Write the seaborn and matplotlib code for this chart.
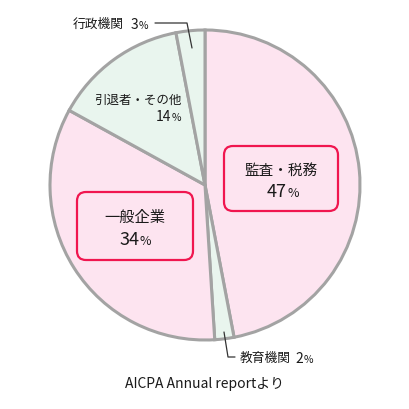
import seaborn as sns
import matplotlib.pyplot as plt
from matplotlib.patches import FancyBboxPatch

# Data (clockwise from top)
categories = ['監査・税務', '教育機関', '一般企業', '引退者・その他', '行政機関']
shares = [47, 2, 34, 14, 3]
fill_colors = ['#fde4f0', '#e9f5ee', '#fde4f0', '#e9f5ee', '#e9f5ee']

sns.set_theme(style='white')
plt.rcParams['font.family'] = ['Noto Sans CJK JP', 'DejaVu Sans']

R = 155.0  # pie radius in pixels
CX, CY = 205.0, 186.0


def px(x, y):
    # pixel position in the 410x410 image -> data coords
    return (x - CX) / R, (CY - y) / R


fig = plt.figure(figsize=(4.1, 4.1), dpi=100)
ax = fig.add_axes([0, 0, 1, 1])
ax.pie(shares, colors=fill_colors, startangle=90, counterclock=False,
       radius=1, center=(0, 0),
       wedgeprops=dict(edgecolor='#a3a3a3', linewidth=2.2))
ax.set_xlim(-CX / R, (410 - CX) / R)
ax.set_ylim(-(410 - CY) / R, CY / R)
ax.set_aspect('equal')
ax.axis('off')

txt = '#1a1a1a'
red = '#f0164f'


def boxed(x0, y0, x1, y1):
    a, b = px(x0, y1)
    c, d = px(x1, y0)
    box = FancyBboxPatch((a, b), c - a, d - b,
                         boxstyle=f'round,pad=0,rounding_size={9 / R}',
                         facecolor='none', edgecolor=red, linewidth=1.6, zorder=3)
    ax.add_patch(box)


def pct(x, y, value, size, psize):
    # number and a smaller % sign, split at pixel x
    ax.text(*px(x, y), str(value), ha='right', va='baseline', fontsize=size, color=txt)
    ax.text(*px(x + 1, y), '%', ha='left', va='baseline', fontsize=psize, color=txt)


# 監査・税務
boxed(224, 147, 338, 212)
ax.text(*px(281, 171), categories[0], ha='center', va='center', fontsize=10.5, color=txt)
pct(287, 197, shares[0], 13, 9)

# 一般企業
boxed(77, 193, 193, 261)
ax.text(*px(135, 217), categories[2], ha='center', va='center', fontsize=11, color=txt)
pct(139, 245, shares[2], 13, 9)

# 引退者・その他
ax.text(*px(138, 100), categories[3], ha='center', va='center', fontsize=9, color=txt)
pct(171, 121, shares[3], 10, 7.5)

# 行政機関 with leader
ax.text(*px(73, 24), categories[4], ha='left', va='center', fontsize=9.2, color=txt)
pct(138, 29, shares[4], 10, 7.5)
lx, ly = zip(px(155, 24), px(187, 24), px(192, 49))
ax.plot(lx, ly, color='#333333', linewidth=0.9)

# 教育機関 with leader
ax.text(*px(240, 358), categories[1], ha='left', va='center', fontsize=9.2, color=txt)
pct(303, 363, shares[1], 10, 7.5)
lx, ly = zip(px(224, 333), px(228, 358), px(235, 358))
ax.plot(lx, ly, color='#333333', linewidth=0.9)

ax.text(*px(205, 384), 'AICPA Annual reportより', ha='center', va='center',
        fontsize=10, color=txt)

fig.savefig('out.png', dpi=100)
